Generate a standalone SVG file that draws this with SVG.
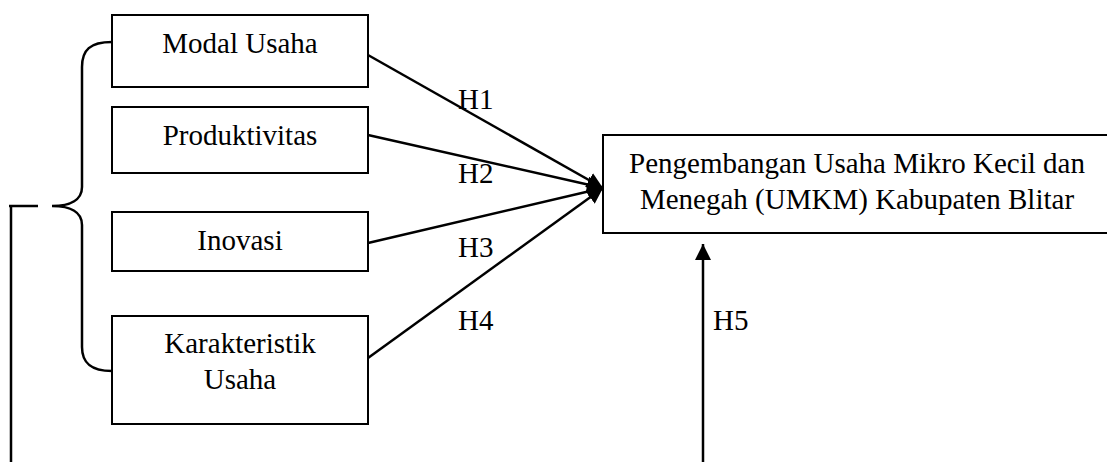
<svg xmlns="http://www.w3.org/2000/svg" width="1107" height="462" viewBox="0 0 1107 462">
<defs>
<style>
.box{fill:#fff;stroke:#000;stroke-width:2}
.t{font-family:"Liberation Serif","Times New Roman",serif;font-size:29px;fill:#000}
.c{text-anchor:middle}
.ln{fill:none;stroke:#000;stroke-width:2.5}
</style>
<marker id="ah" viewBox="0 0 10 10" refX="10" refY="5" markerWidth="16" markerHeight="16" markerUnits="userSpaceOnUse" orient="auto">
<path d="M0,0 L10,5 L0,10 z" fill="#000"/>
</marker>
</defs>
<rect width="1107" height="462" fill="#fff"/>
<g id="modal"><rect class="box" x="112" y="15" width="256" height="72"/><text class="t c" x="240" y="53">Modal Usaha</text></g>
<g id="produktivitas"><rect class="box" x="112" y="107" width="256" height="66"/><text class="t c" x="240" y="145">Produktivitas</text></g>
<g id="inovasi"><rect class="box" x="112" y="212" width="256" height="59"/><text class="t c" x="240" y="250">Inovasi</text></g>
<g id="karakteristik"><rect class="box" x="112" y="316" width="256" height="108"/><text class="t c" x="240" y="353">Karakteristik</text><text class="t c" x="240" y="389">Usaha</text></g>
<g id="target"><rect class="box" x="603" y="135" width="508" height="98"/><text class="t c" x="857" y="173">Pengembangan Usaha Mikro Kecil dan</text><text class="t c" x="857" y="209">Menegah (UMKM) Kabupaten Blitar</text></g>
<g id="connectors">
<path class="ln" d="M112,42 C90,42 82,50 82,67 L82,187 C82,200 70,206 52,206 C70,206 82,212 82,225 L82,347 C82,362 90,371 112,371"/>
<path class="ln" d="M9,206 L38,206 M11,206 L11,462"/>
<line class="ln" x1="368" y1="55" x2="603" y2="188" marker-end="url(#ah)"/>
<line class="ln" x1="368" y1="135" x2="603" y2="188" marker-end="url(#ah)"/>
<line class="ln" x1="368" y1="243" x2="603" y2="188" marker-end="url(#ah)"/>
<line class="ln" x1="368" y1="358" x2="603" y2="188" marker-end="url(#ah)"/>
<line class="ln" x1="703" y1="462" x2="703" y2="244" marker-end="url(#ah)"/>
</g>
<g id="labels">
<text class="t" x="458" y="109">H1</text>
<text class="t" x="458" y="183">H2</text>
<text class="t" x="458" y="257">H3</text>
<text class="t" x="458" y="330">H4</text>
<text class="t" x="713" y="330">H5</text>
</g>
</svg>
